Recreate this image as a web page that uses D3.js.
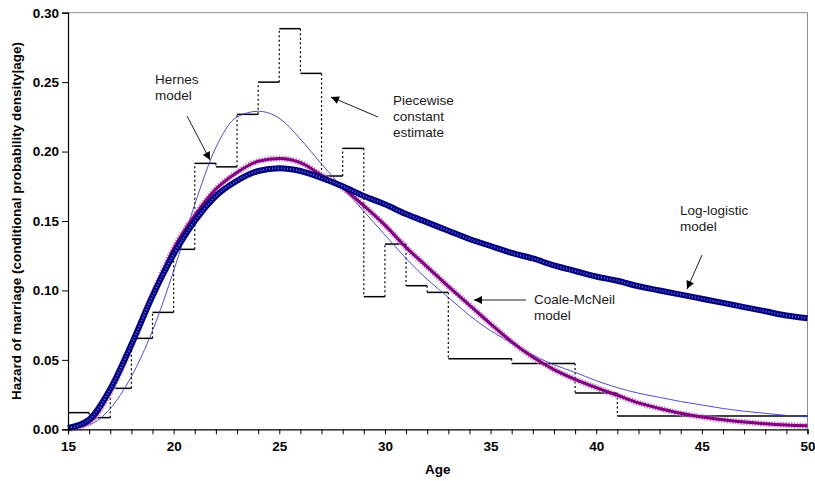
<!DOCTYPE html>
<html>
<head>
<meta charset="utf-8">
<script src="https://cdn.jsdelivr.net/npm/d3@7"></script>
<style>
  body { margin: 0; background: #fff; }
  svg { display: block; font-family: Arial, "Liberation Sans", sans-serif; }
  .axis text { font-size: 13.5px; font-weight: bold; fill: #000; }
  .axis path, .axis line { stroke: #000; }
  .note { font-size: 13.5px; fill: #1a1a1a; }
</style>
</head>
<body>
<svg id="chart" width="815" height="481"></svg>
<script>
"use strict";

// Ages at which the model curves were read
const ages = [15, 16, 17, 18, 19, 20, 21, 22, 23, 24, 25, 26, 27, 28, 29, 30, 31, 32,
  33, 34, 35, 36, 37, 38, 39, 40, 41, 42, 43, 44, 45, 46, 47, 48, 49, 50];

const logLogistic = [0.001, 0.007, 0.029, 0.061, 0.096, 0.126, 0.150, 0.168, 0.179, 0.186,
  0.188, 0.186, 0.181, 0.175, 0.168, 0.162, 0.155, 0.149, 0.143, 0.137, 0.132, 0.127,
  0.123, 0.118, 0.114, 0.110, 0.107, 0.103, 0.100, 0.097, 0.094, 0.091, 0.088, 0.085,
  0.082, 0.080];

const coaleMcNeil = [0.000, 0.005, 0.027, 0.060, 0.097, 0.130, 0.154, 0.173, 0.185, 0.193,
  0.195, 0.192, 0.183, 0.174, 0.161, 0.147, 0.131, 0.117, 0.103, 0.0895, 0.076, 0.063,
  0.052, 0.043, 0.036, 0.030, 0.0245, 0.019, 0.015, 0.0115, 0.0088, 0.0068, 0.0052,
  0.0040, 0.0031, 0.0025];

const hernes = [0.000, 0.003, 0.015, 0.038, 0.071, 0.114, 0.162, 0.203, 0.225, 0.229,
  0.224, 0.209, 0.191, 0.174, 0.157, 0.140, 0.123, 0.108, 0.095, 0.082, 0.071, 0.062,
  0.0535, 0.0465, 0.041, 0.035, 0.030, 0.026, 0.023, 0.020, 0.0175, 0.015, 0.013,
  0.0115, 0.010, 0.009];

// Piecewise constant estimate: interval edges and levels
const stepEdges = [15, 16, 17, 18, 19, 20, 21, 22, 23, 24, 25, 26, 27, 28, 29, 30, 31, 32,
  33, 36, 39, 41, 50];
const stepValues = [0.012, 0.0084, 0.0295, 0.0655, 0.0842, 0.1296, 0.1915, 0.189, 0.2268,
  0.250, 0.2885, 0.2563, 0.1824, 0.2023, 0.0955, 0.1334, 0.1034, 0.0986, 0.0508, 0.0473,
  0.0262, 0.0096];

const xTicks = [15, 20, 25, 30, 35, 40, 45, 50];
const yTicks = [0, 0.05, 0.10, 0.15, 0.20, 0.25, 0.30];

const notes = [
  { lines: ["Hernes", "model"], x: 155, y: 83.5, from: [187, 116], to: [210, 160] },
  { lines: ["Piecewise", "constant", "estimate"], x: 393, y: 105, from: [378, 117], to: [331, 97] },
  { lines: ["Coale-McNeil", "model"], x: 534, y: 304, from: [526, 300], to: [474, 300] },
  { lines: ["Log-logistic", "model"], x: 680, y: 215, from: [702, 255], to: [687, 289] }
];

const svg = d3.select("#chart");
const plot = { left: 68, right: 807.5, top: 12.7, bottom: 429.3 };

const x = d3.scaleLinear().domain([15, 50]).range([plot.left, plot.right]);
const y = d3.scaleLinear().domain([0, 0.30]).range([plot.bottom, plot.top]);

// plot area border (top & right)
svg.append("path")
  .attr("d", "M" + plot.left + "," + plot.top + "H" + plot.right + "V" + plot.bottom)
  .attr("fill", "none")
  .attr("stroke", "#8c8c8c")
  .attr("stroke-width", 1);

// piecewise constant estimate
const steps = svg.append("g").attr("id", "steps");
stepValues.forEach((v, i) => {
  steps.append("line")
    .attr("x1", x(stepEdges[i])).attr("x2", x(stepEdges[i + 1]))
    .attr("y1", y(v)).attr("y2", y(v))
    .attr("stroke", "#000")
    .attr("stroke-width", 1.5);
  if (i > 0) {
    steps.append("line")
      .attr("x1", x(stepEdges[i])).attr("x2", x(stepEdges[i]))
      .attr("y1", y(stepValues[i - 1])).attr("y2", y(v))
      .attr("stroke", "#000")
      .attr("stroke-width", 1.2)
      .attr("stroke-dasharray", "2,2.5");
  }
});

const line = d3.line()
  .x((d, i) => x(ages[i]))
  .y(d => y(d))
  .curve(d3.curveMonotoneX);

// Hernes model: thin blue
svg.append("path")
  .attr("d", line(hernes))
  .attr("fill", "none")
  .attr("stroke", "#3a3ac4")
  .attr("stroke-width", 0.9);

// Coale-McNeil model: purple with x markers
svg.append("path")
  .attr("d", line(coaleMcNeil))
  .attr("fill", "none")
  .attr("stroke", "#c87ac8")
  .attr("stroke-width", 6)
  .attr("stroke-dasharray", "1.4,1.4");
svg.append("path")
  .attr("d", line(coaleMcNeil))
  .attr("fill", "none")
  .attr("stroke", "#80007f")
  .attr("stroke-width", 3);

// Log-logistic model: navy with open circles
svg.append("path")
  .attr("d", line(logLogistic))
  .attr("fill", "none")
  .attr("stroke", "#000080")
  .attr("stroke-width", 6);
svg.append("path")
  .attr("d", line(logLogistic))
  .attr("fill", "none")
  .attr("stroke", "#6a6ac4")
  .attr("stroke-width", 2)
  .attr("stroke-dasharray", "1,2");

// axes
const xAxis = svg.append("g")
  .attr("class", "axis")
  .attr("transform", "translate(0," + plot.bottom + ")")
  .call(d3.axisBottom(x).tickValues(ages).tickSize(5).tickFormat(d => xTicks.includes(d) ? d : ""));
xAxis.selectAll("text").attr("dy", "1.05em");

const yAxis = svg.append("g")
  .attr("class", "axis")
  .attr("transform", "translate(" + plot.left + ",0)")
  .call(d3.axisLeft(y).tickValues(yTicks).tickSize(6).tickFormat(d3.format(".2f")));
yAxis.selectAll("text").attr("x", -9);

svg.selectAll(".axis .domain").attr("stroke-width", 1.2);

svg.append("text")
  .attr("x", (plot.left + plot.right) / 2)
  .attr("y", 474)
  .attr("text-anchor", "middle")
  .attr("font-size", "13.5px")
  .attr("font-weight", "bold")
  .text("Age");

svg.append("text")
  .attr("transform", "translate(21," + ((plot.top + plot.bottom) / 2) + ") rotate(-90)")
  .attr("text-anchor", "middle")
  .attr("font-size", "13.5px")
  .attr("font-weight", "bold")
  .text("Hazard of marriage (conditional probability density|age)");

// annotations
svg.append("defs").append("marker")
  .attr("id", "arrow")
  .attr("viewBox", "0 0 10 10")
  .attr("refX", 10).attr("refY", 5)
  .attr("markerWidth", 10).attr("markerHeight", 8)
  .attr("markerUnits", "userSpaceOnUse")
  .attr("orient", "auto")
  .append("path")
  .attr("d", "M0,0L10,5L0,10Z")
  .attr("fill", "#000");

notes.forEach(n => {
  const t = svg.append("text").attr("class", "note");
  n.lines.forEach((s, i) => {
    t.append("tspan").attr("x", n.x).attr("y", n.y + i * 16).text(s);
  });
  svg.append("line")
    .attr("x1", n.from[0]).attr("y1", n.from[1])
    .attr("x2", n.to[0]).attr("y2", n.to[1])
    .attr("stroke", "#222")
    .attr("stroke-width", 1)
    .attr("marker-end", "url(#arrow)");
});
</script>
</body>
</html>
